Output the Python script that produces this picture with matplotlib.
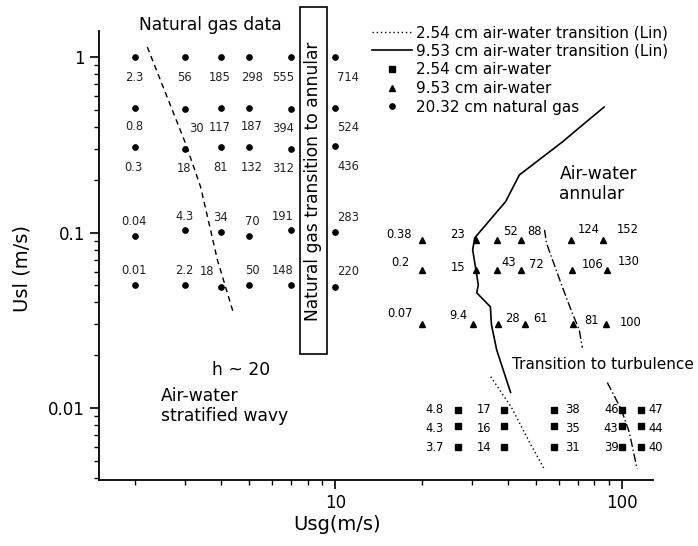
import numpy as np
import matplotlib
matplotlib.use("Agg")
import matplotlib.pyplot as plt
from matplotlib import ticker
from matplotlib.lines import Line2D
from matplotlib.patches import Rectangle

# natural gas data (20.32 cm) - columns of Usg, rows of Usl
ng_usg = [2, 3, 4, 5, 7, 10]
ng_usl = [
    [1.0, 1.0, 1.0, 1.0, 1.0, 1.0],
    [0.515, 0.505, 0.51, 0.515, 0.505, 0.51],
    [0.307, 0.30, 0.307, 0.307, 0.30, 0.31],
    [0.096, 0.103, 0.101, 0.096, 0.103, 0.101],
    [0.05, 0.05, 0.049, 0.05, 0.05, 0.049],
]
ng_lbl = [
    ["2.3", "56", "185", "298", "555", "714"],
    ["0.8", "30", "117", "187", "394", "524"],
    ["0.3", "18", "81", "132", "312", "436"],
    ["0.04", "4.3", "34", "70", "191", "283"],
    ["0.01", "2.2", "18", "50", "148", "220"],
]

# 9.53 cm air-water
aw9_usg = [
    [20.0, 31.0, 36.7, 44.5, 66.4, 85.7],
    [20.0, 31.0, 36.7, 44.5, 67.0, 88.7],
    [20.0, 30.3, 37.0, 45.9, 67.5, 88.0],
]
aw9_usl = [0.091, 0.061, 0.030]
aw9_lbl = [
    ["0.38", "23", "52", "88", "124", "152"],
    ["0.2", "15", "43", "72", "106", "130"],
    ["0.07", "9.4", "28", "61", "81", "100"],
]

# 2.54 cm air-water
aw2_usg = [26.7, 38.8, 57.9, 100, 116]
aw2_usl = [0.0098, 0.0079, 0.006]
aw2_lbl = [
    ["4.8", "17", "38", "46", "47"],
    ["4.3", "16", "35", "43", "44"],
    ["3.7", "14", "31", "39", "40"],
]

# transition lines
lin254_x = [34.8, 41.1, 47.5, 53.5]
lin254_y = [0.0151, 0.0101, 0.0064, 0.0045]
lin953_x = [86.5, 74.9, 61.8, 43.8, 39.2, 30.6, 30.1, 31.5, 31.1, 34.7, 35.0, 36.5, 40.8]
lin953_y = [0.519, 0.427, 0.328, 0.213, 0.150, 0.0933, 0.0798, 0.0504, 0.0454, 0.0378, 0.0299, 0.0215, 0.0123]
h20_x = [2.21, 3.0, 3.39, 3.88, 4.41]
h20_y = [1.14, 0.324, 0.182, 0.070, 0.0349]
turb9_x = [53.6, 54.4, 61.8, 66.9, 70.8, 72.6]
turb9_y = [0.1037, 0.0874, 0.0491, 0.0349, 0.0280, 0.0221]
turb2_x = [88.7, 99.3, 105.8, 112.7]
turb2_y = [0.0140, 0.0098, 0.0073, 0.0045]

# label offsets in pixels (dx, dy)
ng_dx = [-1, -1, -1, 3, -8, 13]
ng_dy = [-21, -19, -20, 14, 15]
ng_extra = {(1, 1): 11, (4, 2): -14}
aw9_off = [
    [(-23, 5), (-19, 5), (13, 8), (13, 8), (17, 10), (25, 10)],
    [(-21, 8), (-18, 3), (11, 8), (15, 6), (20, 6), (21, 9)],
    [(-22, 11), (-15, 9), (14, 6), (15, 6), (18, 4), (24, 2)],
]
aw2_off = [(-23, 0), (-20, 0), (18, 0), (-11, 0), (15, 0)]

plt.rcParams['font.family'] = 'DejaVu Sans'

fig = plt.figure(figsize=(6.98, 5.46), dpi=100)
W, H = 698, 546
x0, x1, yb, yt = 99, 653, 480, 31
ax = fig.add_axes([x0 / W, 1 - yb / H, (x1 - x0) / W, (yb - yt) / H])
ax.set_xscale('log')
ax.set_yscale('log')
ax.set_xlim(1.5, 128)
ax.set_ylim(0.0039, 1.406)

small = 8.3
big = 12.3

# natural gas points
for i, row in enumerate(ng_usl):
    ax.plot(ng_usg, row, 'o', color='black', ms=3.8, ls='none', clip_on=False)
    for j, v in enumerate(row):
        dx = ng_extra.get((i, j), ng_dx[j])
        ax.annotate(ng_lbl[i][j], (ng_usg[j], v), xytext=(dx, ng_dy[i]),
                    textcoords='offset pixels', ha='center', va='center',
                    fontsize=small, color='#222222')

# 9.53 cm triangles
for i, y in enumerate(aw9_usl):
    xs = aw9_usg[i]
    ax.plot(xs, [y] * len(xs), '^', color='black', ms=5, ls='none')
    for j, xv in enumerate(xs):
        dx, dy = aw9_off[i][j]
        ax.annotate(aw9_lbl[i][j], (xv, y), xytext=(dx, dy),
                    textcoords='offset pixels', ha='center', va='center',
                    fontsize=small)

# 2.54 cm squares
for i, y in enumerate(aw2_usl):
    ax.plot(aw2_usg, [y] * len(aw2_usg), 's', color='black', ms=4.3, ls='none')
    for j, xv in enumerate(aw2_usg):
        dx, dy = aw2_off[j]
        ax.annotate(aw2_lbl[i][j], (xv, y), xytext=(dx, dy - 2 * (i == 1)),
                    textcoords='offset pixels', ha='center', va='center',
                    fontsize=small)

# transition lines
ax.plot(lin254_x, lin254_y, color='black', lw=1, ls=(0, (1, 2)))
ax.plot(lin953_x, lin953_y, color='black', lw=1.2)
ax.plot(h20_x, h20_y, color='black', lw=1, ls=(0, (4, 3)))
ax.plot(turb9_x, turb9_y, color='black', lw=1, ls=(0, (6, 2, 1, 2)))
ax.plot(turb2_x, turb2_y, color='black', lw=1, ls=(0, (6, 2, 1, 2)))

# region labels
ax.text(2.06, 1.52, 'Natural gas data', fontsize=big, ha='left', va='center')
ax.text(60.4, 0.19, 'Air-water\nannular', fontsize=big, ha='left', va='center',
        linespacing=1.15)
ax.text(2.46, 0.0103, 'Air-water\nstratified wavy', fontsize=big, ha='left',
        va='center', linespacing=1.15)
ax.text(3.73, 0.0166, 'h ~ 20', fontsize=big, ha='left', va='center')
ax.text(178, 0.0177, 'Transition to turbulence', fontsize=11, ha='right',
        va='center', clip_on=False)

box = Rectangle((7.54, 0.0204), 9.35 - 7.54, 1.925 - 0.0204, fill=False,
                ec='black', lw=1.2, clip_on=False)
ax.add_patch(box)
ax.text(8.39, 0.197, 'Natural gas transition to annular', fontsize=big,
        rotation=90, ha='center', va='center')

# axes styling
for s in ['top', 'right']:
    ax.spines[s].set_visible(False)
for s in ['left', 'bottom']:
    ax.spines[s].set_linewidth(1.3)
ax.tick_params(which='major', direction='out', length=6.5, width=1.2, labelsize=12)
ax.tick_params(which='minor', direction='out', length=3.5, width=1.0)
ax.xaxis.set_major_locator(ticker.FixedLocator([10, 100]))
ax.yaxis.set_major_locator(ticker.FixedLocator([0.01, 0.1, 1]))
fmt = ticker.FuncFormatter(lambda v, _: f'{v:g}')
ax.xaxis.set_major_formatter(fmt)
ax.yaxis.set_major_formatter(fmt)
ax.xaxis.set_minor_locator(ticker.LogLocator(base=10, subs=np.arange(2, 10)))
ax.yaxis.set_minor_locator(ticker.LogLocator(base=10, subs=np.arange(2, 10)))
ax.xaxis.set_minor_formatter(ticker.NullFormatter())
ax.yaxis.set_minor_formatter(ticker.NullFormatter())

ax.set_xlabel('Usg(m/s)', fontsize=14, va='center')
ax.xaxis.set_label_coords((337 - x0) / (x1 - x0), (yb - 525) / (yb - yt))
ax.set_ylabel('Usl (m/s)', fontsize=14, va='center')
ax.yaxis.set_label_coords((22 - x0) / (x1 - x0), (yb - 269) / (yb - yt))

handles = [
    Line2D([], [], color='black', lw=1, ls=(0, (1, 2))),
    Line2D([], [], color='black', lw=1.2),
    Line2D([], [], color='black', marker='s', ms=4.3, ls='none'),
    Line2D([], [], color='black', marker='^', ms=5, ls='none'),
    Line2D([], [], color='black', marker='o', ms=3.8, ls='none'),
]
labels = ['2.54 cm air-water transition (Lin)', '9.53 cm air-water transition (Lin)',
          '2.54 cm air-water', '9.53 cm air-water', '20.32 cm natural gas']
ax.legend(handles, labels, loc='upper left', bbox_to_anchor=(372 / W, 1 - 25 / H),
          bbox_transform=fig.transFigure, frameon=False, fontsize=11,
          handlelength=2.6, handletextpad=0.25, labelspacing=0.24,
          borderpad=0, borderaxespad=0)

fig.savefig('out.png', dpi=100)
